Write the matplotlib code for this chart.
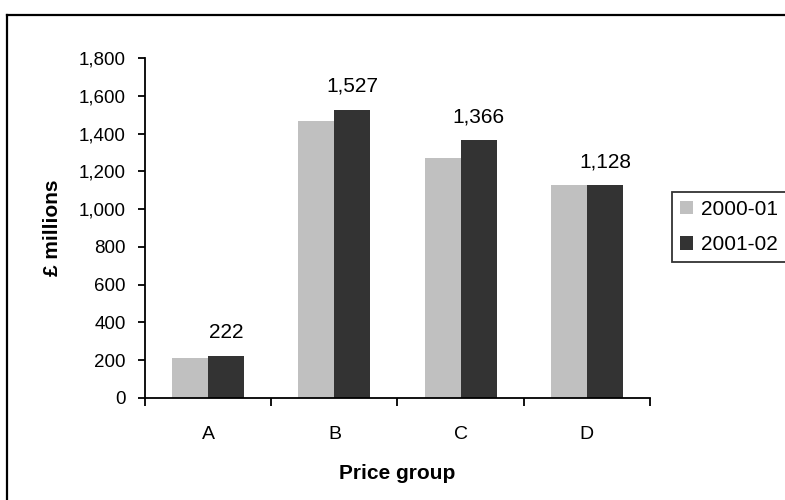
import matplotlib
matplotlib.use("Agg")
import matplotlib.pyplot as plt
from matplotlib.lines import Line2D
import numpy as np

plt.rcParams['font.family'] = ['Liberation Sans', 'DejaVu Sans']

categories = ["A", "B", "C", "D"]
series_names = ["2000-01", "2001-02"]
values_2000 = [212, 1468, 1268, 1128]
values_2001 = [222, 1527, 1366, 1128]
label_texts = ["222", "1,527", "1,366", "1,128"]
yticks = [0, 200, 400, 600, 800, 1000, 1200, 1400, 1600, 1800]

colors = ["#C0C0C0", "#333333"]

W, H = 785, 500
fig = plt.figure(figsize=(W / 100, H / 100), dpi=100)
ax = fig.add_axes([145 / W, 1 - 398 / H, 505 / W, 340 / H])

x = np.arange(len(categories))
bw = 0.2857
b1 = ax.bar(x - bw / 2, values_2000, bw, color=colors[0], label=series_names[0])
b2 = ax.bar(x + bw / 2, values_2001, bw, color=colors[1], label=series_names[1])

for xi, v, t in zip(x, values_2001, label_texts):
    ax.annotate(t, (xi + bw / 2, v), xytext=(0, 10), textcoords="offset points",
                ha="center", va="bottom", fontsize=15)

ax.set_xlim(-0.5, len(categories) - 0.5)
ax.set_ylim(0, 1800)
ax.set_yticks(yticks)
ax.set_yticklabels([f"{v:,}" for v in yticks])
ax.set_xticks(np.arange(-0.5, len(categories), 1.0))
ax.set_xticklabels([])
ax.set_xticks(x, minor=True)
ax.set_xticklabels(categories, minor=True)
ax.tick_params(axis="x", which="major", direction="out", length=6, width=1.3)
ax.tick_params(axis="x", which="minor", length=0, pad=20, labelsize=14)
ax.tick_params(axis="y", direction="out", length=5, width=1.3, pad=9, labelsize=13.5)

for s in ["top", "right"]:
    ax.spines[s].set_visible(False)
for s in ["left", "bottom"]:
    ax.spines[s].set_linewidth(1.3)

ax.set_ylabel("£ millions", fontsize=15, fontweight="bold")
ax.yaxis.set_label_coords(-0.164, 0.5)
ax.set_xlabel("Price group", fontsize=15, fontweight="bold")
ax.xaxis.set_label_coords(0.5, -0.195)

leg = fig.legend(handles=[b1, b2], loc="upper left",
                 bbox_to_anchor=(672 / W, 1 - 261 / H, 140 / W, 69 / H),
                 bbox_transform=fig.transFigure, mode="expand",
                 fontsize=15, frameon=True, fancybox=False,
                 handlelength=0.63, handleheight=0.63, handletextpad=0.38,
                 borderpad=0.37, labelspacing=0.8, borderaxespad=0)
leg.get_frame().set_edgecolor("black")
leg.get_frame().set_linewidth(1.3)

# figure border (left and top edges visible)
fig.add_artist(Line2D([7 / W, 7 / W], [0, 1 - 15 / H], transform=fig.transFigure,
                      color="black", linewidth=1.6))
fig.add_artist(Line2D([7 / W, 1], [1 - 15 / H, 1 - 15 / H], transform=fig.transFigure,
                      color="black", linewidth=1.6))

fig.savefig("out.png", dpi=100)
